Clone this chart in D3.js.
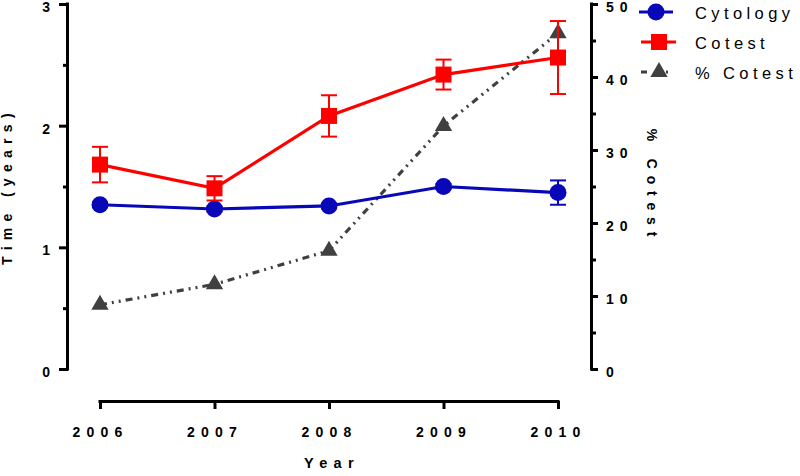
<!DOCTYPE html>
<html><head><meta charset="utf-8">
<script src="https://cdn.jsdelivr.net/npm/d3@7"></script>
<style>
body{margin:0;background:#fff}
text{font-family:"Liberation Sans",Arial,Helvetica,sans-serif;}
</style>
</head><body><svg id="c" width="800" height="476"></svg>
<script>
// ---- data ----
const years = [2006, 2007, 2008, 2009, 2010];
const cytology = [1.35, 1.315, 1.34, 1.50, 1.45];
const cytologyErr = [0.02, 0.02, 0.02, 0.02, 0.10];
const cotest = [1.68, 1.485, 2.08, 2.42, 2.56];
const cotestErr = [0.146, 0.10, 0.17, 0.123, 0.30];
const pctCotest = [8.8, 11.6, 16.2, 33.3, 46.0];
const leftTicks = [0, 1, 2, 3];
const leftMinor = [0.5, 1.5, 2.5];
const rightTicks = [0, 10, 20, 30, 40, 50];
const rightMinor = [5, 15, 25, 35, 45];
const legendLabels = ["Cytology", "Cotest", "% Cotest"];

const BLUE = "#0808b8", RED = "#ff0000", GRAY = "#404040";
const svg = d3.select("#c");

const x = d3.scaleLinear().domain([2006, 2010]).range([100, 558]);
const yL = d3.scaleLinear().domain([0, 3]).range([369, 4]);
const yR = d3.scaleLinear().domain([0, 50]).range([369, 4]);

const AXL = 68, AXR = 591, AXB = 401;

function styleAxis(g, fs, ls) {
  g.selectAll("path.domain").attr("stroke", "#000").attr("stroke-width", 3);
  g.selectAll(".tick line").attr("stroke", "#000").attr("stroke-width", 3);
  g.selectAll("text").attr("font-size", fs).attr("font-weight", "bold")
    .attr("fill", "#000").style("letter-spacing", ls);
}

// left axis
const gLm = svg.append("g").attr("transform", `translate(${AXL},0)`)
  .call(d3.axisLeft(yL).tickValues(leftMinor).tickSize(5).tickSizeOuter(0).tickFormat(""));
styleAxis(gLm, 14, "0px");
gLm.select("path.domain").remove();
const gL = svg.append("g").attr("transform", `translate(${AXL},0)`)
  .call(d3.axisLeft(yL).tickValues(leftTicks).tickSize(9).tickSizeOuter(0).tickPadding(9).tickFormat(d3.format("d")));
styleAxis(gL, 14, "0px");
gL.selectAll("text").attr("dy", "0.53em");
gL.select("path.domain").attr("d", `M-0.5,${yL(3)-1.5}V${yL(0)+1.5}`);

// right axis
const gRm = svg.append("g").attr("transform", `translate(${AXR},0)`)
  .call(d3.axisRight(yR).tickValues(rightMinor).tickSize(5).tickSizeOuter(0).tickFormat(""));
styleAxis(gRm, 14, "0px");
gRm.select("path.domain").remove();
const gR = svg.append("g").attr("transform", `translate(${AXR},0)`)
  .call(d3.axisRight(yR).tickValues(rightTicks).tickSize(7).tickSizeOuter(0).tickPadding(8).tickFormat(d3.format("d")));
styleAxis(gR, 14, "6px");
gR.selectAll("text").attr("dy", "0.55em");
gR.select("path.domain").attr("d", `M0.5,${yR(50)-1.5}V${yR(0)+1.5}`);

// bottom axis
const gB = svg.append("g").attr("transform", `translate(0,${AXB})`)
  .call(d3.axisBottom(x).tickValues(years).tickSize(8).tickSizeOuter(0).tickPadding(18).tickFormat(d3.format("d")));
styleAxis(gB, 14, "6.2px");
gB.select("path.domain").attr("d", `M${x(2006)-1.5},0.5H${x(2010)+1.5}`);

// axis titles
svg.append("text").attr("transform", "translate(12,186) rotate(-90)")
  .attr("text-anchor", "middle").attr("font-size", 14).attr("font-weight", "bold")
  .style("letter-spacing", "6.3px").text("Time (years)");
svg.append("text").attr("transform", "translate(647,186) rotate(90)")
  .attr("text-anchor", "middle").attr("font-size", 14).attr("font-weight", "bold")
  .style("letter-spacing", "6.8px").text("% Cotest");
svg.append("text").attr("x", 332).attr("y", 468)
  .attr("text-anchor", "middle").attr("font-size", 14.5).attr("font-weight", "bold")
  .style("letter-spacing", "6.4px").text("Year");

// ---- series ----
const DASH = "7,5,2,5,2,5";
const gLine = d3.line().x((d, i) => x(years[i])).y(d => yR(d));
svg.append("path").datum(pctCotest).attr("d", gLine).attr("fill", "none")
  .attr("stroke", GRAY).attr("stroke-width", 3.2).attr("stroke-dasharray", DASH);
svg.selectAll(".tri").data(pctCotest).enter().append("path")
  .attr("transform", (d, i) => `translate(${x(years[i])},${yR(d)})`)
  .attr("d", d3.symbol(d3.symbolTriangle, 130)()).attr("fill", GRAY);

function drawSeries(vals, errs, yS, color, sym, size) {
  const line = d3.line().x((d, i) => x(years[i])).y(d => yS(d));
  svg.append("path").datum(vals).attr("d", line).attr("fill", "none")
    .attr("stroke", color).attr("stroke-width", 3.2);
  const eb = svg.append("g").attr("stroke", color).attr("stroke-width", 2).attr("fill", "none");
  vals.forEach((v, i) => {
    const cx = x(years[i]), t = yS(v + errs[i]), b = yS(v - errs[i]);
    eb.append("line").attr("x1", cx).attr("x2", cx).attr("y1", t).attr("y2", b);
    eb.append("line").attr("x1", cx - 8).attr("x2", cx + 8).attr("y1", t).attr("y2", t);
    eb.append("line").attr("x1", cx - 8).attr("x2", cx + 8).attr("y1", b).attr("y2", b);
  });
  svg.selectAll(null).data(vals).enter().append("path")
    .attr("transform", (d, i) => `translate(${x(years[i])},${yS(d)})`)
    .attr("d", d3.symbol(sym, size)()).attr("fill", color);
}
drawSeries(cytology, cytologyErr, yL, BLUE, d3.symbolCircle, 227);
drawSeries(cotest, cotestErr, yL, RED, d3.symbolSquare, 256);

// ---- legend ----
const lg = svg.append("g");
const legY = [12, 42, 72];
lg.append("line").attr("x1", 639).attr("x2", 673).attr("y1", legY[0]).attr("y2", legY[0])
  .attr("stroke", BLUE).attr("stroke-width", 3.2);
lg.append("path").attr("transform", `translate(656,${legY[0]})`)
  .attr("d", d3.symbol(d3.symbolCircle, 227)()).attr("fill", BLUE);
lg.append("line").attr("x1", 641).attr("x2", 676).attr("y1", legY[1]).attr("y2", legY[1])
  .attr("stroke", RED).attr("stroke-width", 3.2);
lg.append("path").attr("transform", `translate(659,${legY[1]})`)
  .attr("d", d3.symbol(d3.symbolSquare, 256)()).attr("fill", RED);
lg.append("line").attr("x1", 641).attr("x2", 670).attr("y1", legY[2]).attr("y2", legY[2])
  .attr("stroke", GRAY).attr("stroke-width", 3.2).attr("stroke-dasharray", "6,19,2,10");
lg.append("path").attr("transform", `translate(659,${legY[2]})`)
  .attr("d", d3.symbol(d3.symbolTriangle, 130)()).attr("fill", GRAY);
lg.selectAll(".lt").data(legendLabels).enter().append("text")
  .attr("x", 695).attr("y", (d, i) => legY[i] + 7)
  .attr("font-size", 16.5).attr("fill", "#000").style("letter-spacing", "4.4px")
  .text(d => d);
</script>
</body></html>
